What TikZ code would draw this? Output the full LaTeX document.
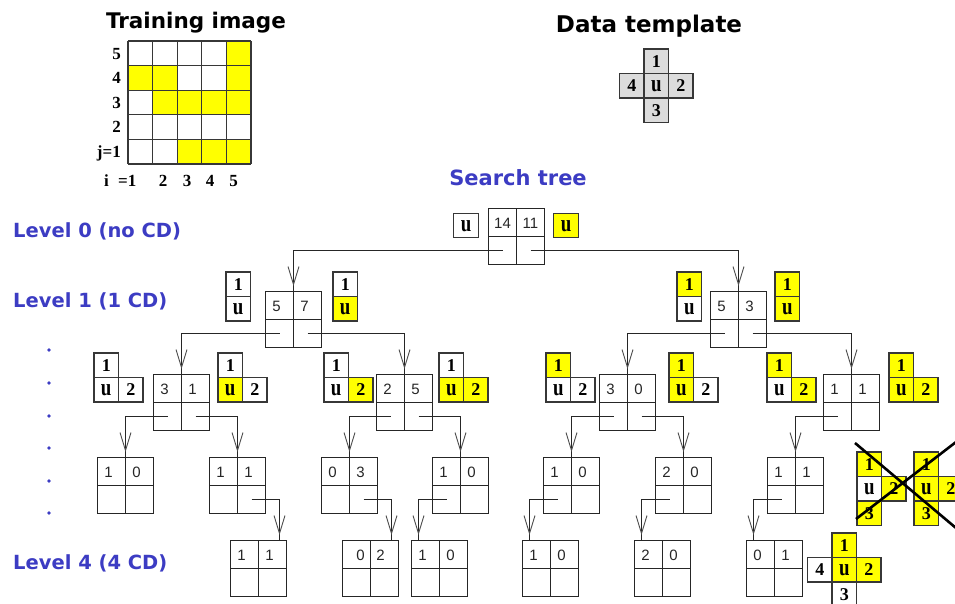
\documentclass[tikz,border=0pt]{standalone}
\usepackage{fontspec}
\usepackage{graphicx}
\setmainfont{Liberation Serif}
\newfontfamily\tahfont{DejaVu Sans}
\newfontfamily\arfont{Liberation Sans}
\usetikzlibrary{calc}
\definecolor{lvlblue}{RGB}{60,60,195}
\definecolor{tyellow}{RGB}{255,255,0}
\definecolor{tgray}{RGB}{55,55,55}
\definecolor{dtgray}{RGB}{220,220,220}

\newcommand\tallu{\scalebox{1.05}[1.32]{u}}
% template cells
\newcommand\tplcell[5]{\node[tcell,fill=#4] (#1) at (#2,#3) {#5};}
\newcommand\tplI[5]{% name x y f1 fu  (x,y = top-left of the "1" cell)
  \tplcell{#1-1}{#2+12.25}{#3+12.25}{#4}{1}%
  \tplcell{#1-u}{#2+12.25}{#3+36.75}{#5}{\tallu}}
\newcommand\tplL[6]{\tplI{#1}{#2}{#3}{#4}{#5}\tplcell{#1-2}{#2+36.75}{#3+36.75}{#6}{2}}
\newcommand\tplT[7]{\tplL{#1}{#2}{#3}{#4}{#5}{#6}\tplcell{#1-3}{#2+12.25}{#3+61.25}{#7}{3}}
\newcommand\tplX[8]{\tplT{#1}{#2}{#3}{#4}{#5}{#6}{#7}\tplcell{#1-4}{#2-12.25}{#3+36.75}{#8}{4}}

% tree node: name cx cy a b shiftA shiftB
\newcommand\tnode[7]{%
  \node[tbox] (#1) at (#2,#3) {};
  \draw[tline] (#1.north) -- (#1.south) (#1.west) -- (#1.east);
  \node[tnum] (#1-a) at ($(#1.center)+({-14+(#6)},-14)$) {#4};
  \node[tnum] (#1-b) at ($(#1.center)+({14+(#7)},-14)$) {#5};}

% connector: parent, start dx, child, end shift
\newcommand\conn[4]{%
  \draw[conn] ($(#1.center)+(#2,14)$) -| ($(#3.north)+(#4,0)$);
  \draw[barb] ($(#3.north)+({#4-5.5},-25)$) -- ($(#3.north)+(#4,-7)$) -- ($(#3.north)+({#4+5.5},-25)$);}

\begin{document}
\begin{tikzpicture}[x=1pt,y=-1pt,
  tbox/.style={draw=black!85,line width=1.1pt,minimum size=56pt,inner sep=0pt,outer sep=0pt},
  tline/.style={draw=black!85,line width=1.1pt},
  tnum/.style={font=\arfont\fontsize{15}{15}\selectfont,text=black!85,inner sep=0pt,text height=11pt,text depth=0pt},
  conn/.style={draw=black!85,line width=1pt},
  barb/.style={draw=black!70,line width=0.9pt},
  tcell/.style={draw=tgray,line width=1.1pt,minimum size=24.5pt,inner sep=0pt,
    font=\bfseries\fontsize{18}{18}\selectfont,text height=12pt,text depth=0pt},
  gridl/.style={draw=tgray,line width=1.2pt},
  axlab/.style={font=\bfseries\fontsize{17}{17}\selectfont,inner sep=0pt,text height=11.5pt,text depth=0pt},
  title/.style={font=\tahfont\bfseries\fontsize{#1}{#1}\selectfont,inner sep=0pt,anchor=base},
  lvl/.style={font=\tahfont\bfseries\fontsize{19.5}{20}\selectfont,text=lvlblue,inner sep=0pt,anchor=base west},
  bdot/.style={circle,fill=lvlblue,inner sep=0pt,minimum size=3.6pt},
  cross/.style={draw=black,line width=2.6pt}]
\fill[white] (0,0) rectangle (955,603);
\useasboundingbox (0,0) rectangle (955,603);

% ---------- titles ----------
\node[title=21.5] (ttrain) at (196,28.5) {Training image};
\node[title=23] (tdata) at (649,32) {Data template};
\node[title=21,text=lvlblue] (tsearch) at (518,185) {Search tree};

% ---------- training image ----------
\foreach \i/\j in {5/5,1/4,2/4,5/4,2/3,3/3,4/3,5/3,3/1,4/1,5/1}
  \fill[tyellow] ({128+(\i-1)*24.6},{41+(5-\j)*24.6}) rectangle ++(24.6,24.6);
\foreach \k in {0,...,5}{
  \draw[gridl] ({128+\k*24.6},41) -- ({128+\k*24.6},164);
  \draw[gridl] (128,{41+\k*24.6}) -- (251,{41+\k*24.6});}
\node[axlab,anchor=east] (r5) at (121,53.3) {5};
\node[axlab,anchor=east] (r4) at (121,77.9) {4};
\node[axlab,anchor=east] (r3) at (121,102.5) {3};
\node[axlab,anchor=east] (r2) at (121,127.1) {2};
\node[axlab,anchor=east] (r1) at (121,151.7) {j=1};
\node[axlab] (ci) at (106.5,181) {i};
\node[axlab,anchor=west] (c1) at (118,181) {=1};
\node[axlab] (c2) at (163,181) {2};
\node[axlab] (c3) at (187,181) {3};
\node[axlab] (c4) at (210,181) {4};
\node[axlab] (c5) at (233.5,181) {5};

% ---------- data template ----------
\tplX{dt}{644}{49}{dtgray}{dtgray}{dtgray}{dtgray}{dtgray}

% ---------- level labels ----------
\node[lvl] (lv0) at (13,237) {Level 0 (no CD)};
\node[lvl] (lv1) at (13,307) {Level 1 (1 CD)};
\node[lvl] (lv4) at (13,569) {Level 4 (4 CD)};
\foreach \yy [count=\n] in {350,383,416,448,481,513}
  \node[bdot] (dot\n) at (49,\yy) {};

% ---------- tree nodes ----------
\tnode{n0}{516.5}{236.5}{14}{11}{0}{0}
\tnode{n1a}{293.5}{319.5}{5}{7}{-3}{-3}
\tnode{n1b}{738.5}{319.5}{5}{3}{-3}{-3}
\tnode{n2a}{181.5}{402.5}{3}{1}{-3}{-3}
\tnode{n2b}{404.5}{402.5}{2}{5}{-3}{-3}
\tnode{n2c}{627.5}{402.5}{3}{0}{-3}{-3}
\tnode{n2d}{851.5}{402.5}{1}{1}{-3}{-3}
\tnode{n3a}{125.5}{485.5}{1}{0}{-3}{-3}
\tnode{n3b}{237.5}{485.5}{1}{1}{-3}{-3}
\tnode{n3c}{349.5}{485.5}{0}{3}{-3}{-3}
\tnode{n3d}{460.5}{485.5}{1}{0}{-3}{-3}
\tnode{n3e}{571.5}{485.5}{1}{0}{-3}{-3}
\tnode{n3f}{683.5}{485.5}{2}{0}{-3}{-3}
\tnode{n3g}{795.5}{485.5}{1}{1}{-3}{-3}
\tnode{n4a}{258.5}{568.5}{1}{1}{-3}{-3}
\tnode{n4b}{370.5}{568.5}{0}{2}{4}{-4}
\tnode{n4c}{439.5}{568.5}{1}{0}{-3}{-3}
\tnode{n4d}{550.5}{568.5}{1}{0}{-3}{-3}
\tnode{n4e}{662.5}{568.5}{2}{0}{-3}{-3}
\tnode{n4f}{774.5}{568.5}{0}{1}{-3}{-3}

% ---------- connectors ----------
\conn{n0}{-14}{n1a}{0}
\conn{n0}{14}{n1b}{0}
\conn{n1a}{-14}{n2a}{0}
\conn{n1a}{14}{n2b}{0}
\conn{n1b}{-14}{n2c}{0}
\conn{n1b}{14}{n2d}{0}
\conn{n2a}{-14}{n3a}{0}
\conn{n2a}{14}{n3b}{0}
\conn{n2b}{-14}{n3c}{0}
\conn{n2b}{14}{n3d}{0}
\conn{n2c}{-14}{n3e}{0}
\conn{n2c}{14}{n3f}{0}
\conn{n2d}{-14}{n3g}{0}
\conn{n3b}{14}{n4a}{21}
\conn{n3c}{14}{n4b}{21}
\conn{n3d}{-14}{n4c}{-21}
\conn{n3e}{-14}{n4d}{-21}
\conn{n3f}{-14}{n4e}{-21}
\conn{n3g}{-14}{n4f}{-21}

% ---------- templates ----------
\tplcell{t0a}{466}{225.5}{white}{\tallu}
\tplcell{t0b}{566}{225.5}{tyellow}{\tallu}
\tplI{t1a}{226}{272}{white}{white}
\tplI{t1b}{333}{272}{white}{tyellow}
\tplI{t1c}{677}{272}{tyellow}{white}
\tplI{t1d}{775}{272}{tyellow}{tyellow}
\tplL{t2a}{94}{353}{white}{white}{white}
\tplL{t2b}{218}{353}{white}{tyellow}{white}
\tplL{t2c}{324}{353}{white}{white}{tyellow}
\tplL{t2d}{439}{353}{white}{tyellow}{tyellow}
\tplL{t2e}{546}{353}{tyellow}{white}{white}
\tplL{t2f}{669}{353}{tyellow}{tyellow}{white}
\tplL{t2g}{767}{353}{tyellow}{white}{tyellow}
\tplL{t2h}{889}{353}{tyellow}{tyellow}{tyellow}
\tplT{t3a}{857}{452}{tyellow}{white}{tyellow}{tyellow}
\tplT{t3b}{914}{452}{tyellow}{tyellow}{tyellow}{tyellow}
\tplX{t4}{832}{533}{tyellow}{tyellow}{tyellow}{white}{white}

% ---------- crossing out ----------
\coordinate (xa1) at (855,443);
\coordinate (xa2) at (956,528);
\coordinate (xb1) at (856,519);
\coordinate (xb2) at (956,442);
\draw[cross] (xa1) -- (xa2);
\draw[cross] (xb1) -- (xb2);
\end{tikzpicture}
\end{document}
